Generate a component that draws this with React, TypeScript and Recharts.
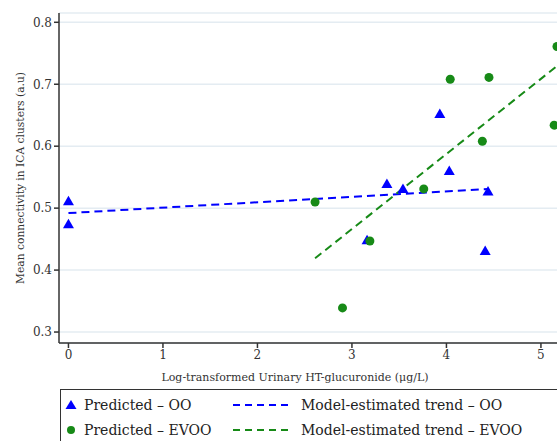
import {
  ScatterChart,
  Scatter,
  XAxis,
  YAxis,
  CartesianGrid,
} from 'recharts'

interface Pt {
  x: number
  y: number
}

const xTicks = [0, 1, 2, 3, 4, 5]
const yTicks = [0.3, 0.4, 0.5, 0.6, 0.7, 0.8]

const predictedOO: Pt[] = [
  { x: 0, y: 0.511 },
  { x: 0, y: 0.474 },
  { x: 3.16, y: 0.448 },
  { x: 3.37, y: 0.539 },
  { x: 3.54, y: 0.531 },
  { x: 3.93, y: 0.652 },
  { x: 4.03, y: 0.56 },
  { x: 4.44, y: 0.527 },
  { x: 4.41, y: 0.431 },
]

const predictedEVOO: Pt[] = [
  { x: 2.61, y: 0.51 },
  { x: 2.9, y: 0.339 },
  { x: 3.19, y: 0.447 },
  { x: 3.76, y: 0.531 },
  { x: 4.04, y: 0.708 },
  { x: 4.38, y: 0.608 },
  { x: 4.45, y: 0.711 },
  { x: 5.14, y: 0.634 },
  { x: 5.17, y: 0.761 },
]

// model-estimated trend endpoints
const trendOO: Pt[] = [
  { x: 0, y: 0.492 },
  { x: 4.44, y: 0.531 },
]

const trendEVOO: Pt[] = [
  { x: 2.61, y: 0.419 },
  { x: 5.2, y: 0.733 },
]

const BLUE = '#0000ff'
const GREEN = '#178a17'
const FONT = '"DejaVu Serif", "Liberation Serif", serif'

const Triangle = (props: any) => {
  const { cx, cy } = props
  return (
    <polygon
      points={`${cx},${cy - 5.5} ${cx - 5.5},${cy + 4} ${cx + 5.5},${cy + 4}`}
      fill={BLUE}
    />
  )
}

const Dot = (props: any) => {
  const { cx, cy } = props
  return <circle cx={cx} cy={cy} r={4.5} fill={GREEN} />
}

const NoDot = () => <g />

export default function App() {
  return (
    <div style={{ position: 'absolute', left: 0, top: 0, width: 557, height: 441, overflow: 'hidden', background: '#fff' }}>
      <ScatterChart
        width={557}
        height={441}
        margin={{ top: 13, right: 0, bottom: 58, left: 0 }}
      >
        <CartesianGrid vertical={false} stroke="#e4ecf2" strokeWidth={1.5} />
        <XAxis
          type="number"
          dataKey="x"
          domain={[-0.1, 5.17]}
          ticks={xTicks}
          height={40}
          allowDataOverflow
          stroke="#333"
          strokeWidth={1.5}
          tickSize={5}
          tick={{ fill: '#333', fontSize: 12, fontFamily: FONT }}
          label={{
            value: 'Log-transformed Urinary HT-glucuronide (μg/L)',
            position: 'insideBottom',
            offset: 2,
            dx: -13,
            fill: '#333',
            fontSize: 11,
            fontFamily: FONT,
          }}
        />
        <YAxis
          type="number"
          dataKey="y"
          domain={[0.2823, 0.815]}
          ticks={yTicks}
          width={59}
          allowDataOverflow
          stroke="#333"
          strokeWidth={1.5}
          tickSize={5}
          tickFormatter={(v: number) => v.toFixed(1)}
          tick={{ fill: '#333', fontSize: 12, fontFamily: FONT }}
          label={{
            value: 'Mean connectivity in ICA clusters (a.u)',
            angle: -90,
            position: 'insideLeft',
            offset: 0,
            dx: 20,
            style: { textAnchor: 'middle' },
            fill: '#333',
            fontSize: 10.7,
            fontFamily: FONT,
          }}
        />
        <Scatter
          data={trendOO}
          shape={NoDot}
          line={{ stroke: BLUE, strokeWidth: 2, strokeDasharray: '8 5' }}
          isAnimationActive={false}
        />
        <Scatter
          data={trendEVOO}
          shape={NoDot}
          line={{ stroke: GREEN, strokeWidth: 2, strokeDasharray: '8 5' }}
          isAnimationActive={false}
        />
        <Scatter data={predictedOO} shape={Triangle} isAnimationActive={false} />
        <Scatter data={predictedEVOO} shape={Dot} isAnimationActive={false} />
      </ScatterChart>
      <div
        style={{
          position: 'absolute',
          left: 60,
          top: 389,
          width: 520,
          height: 60,
          border: '1px solid #333',
          fontFamily: FONT,
          fontSize: 14,
          color: '#222',
        }}
      >
        <div style={{ position: 'absolute', left: 3, top: 7, display: 'flex', alignItems: 'center' }}>
          <svg width={14} height={12}>
            <polygon points="7,1 1.5,10 12.5,10" fill={BLUE} />
          </svg>
          <span style={{ marginLeft: 6 }}>Predicted – OO</span>
        </div>
        <div style={{ position: 'absolute', left: 3, top: 32, display: 'flex', alignItems: 'center' }}>
          <svg width={14} height={12}>
            <circle cx={7} cy={6} r={4} fill={GREEN} />
          </svg>
          <span style={{ marginLeft: 6 }}>Predicted – EVOO</span>
        </div>
        <div style={{ position: 'absolute', left: 172, top: 7, display: 'flex', alignItems: 'center' }}>
          <svg width={58} height={12}>
            <line x1={0} y1={6} x2={58} y2={6} stroke={BLUE} strokeWidth={2} strokeDasharray="7 5" />
          </svg>
          <span style={{ marginLeft: 10 }}>Model-estimated trend – OO</span>
        </div>
        <div style={{ position: 'absolute', left: 172, top: 32, display: 'flex', alignItems: 'center' }}>
          <svg width={58} height={12}>
            <line x1={0} y1={6} x2={58} y2={6} stroke={GREEN} strokeWidth={2} strokeDasharray="7 5" />
          </svg>
          <span style={{ marginLeft: 10 }}>Model-estimated trend – EVOO</span>
        </div>
      </div>
    </div>
  )
}
